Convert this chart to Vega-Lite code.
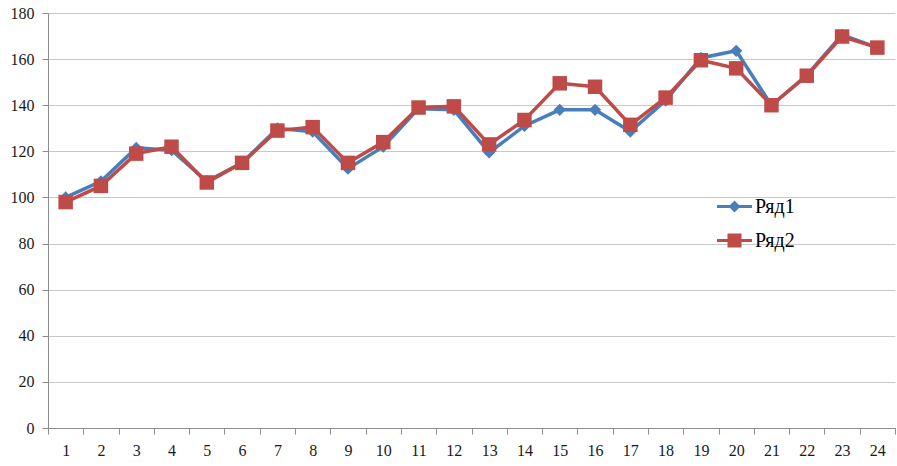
{
  "$schema": "https://vega.github.io/schema/vega-lite/v6.json",
  "width": 847,
  "height": 415,
  "autosize": {"type": "none"},
  "padding": {"left": 48, "top": 13, "right": 2, "bottom": 38},
  "background": "white",
  "config": {
    "view": {"stroke": null},
    "axis": {"labelFont": "Liberation Sans Narrow", "labelFontSize": 16, "labelColor": "#1a1a1a", "domainColor": "#8c8c8c", "tickColor": "#8c8c8c", "gridColor": "#c8c8c8", "title": null},
    "legend": {"labelFont": "Liberation Serif, Times New Roman, DejaVu Serif, serif", "labelFontSize": 20, "labelColor": "#000"}
  },
  "data": {"values": [
    {"x": 1, "s": "Ряд1", "v": 100}, {"x": 2, "s": "Ряд1", "v": 107}, {"x": 3, "s": "Ряд1", "v": 121.5}, {"x": 4, "s": "Ряд1", "v": 120.5},
    {"x": 5, "s": "Ряд1", "v": 107}, {"x": 6, "s": "Ряд1", "v": 115}, {"x": 7, "s": "Ряд1", "v": 130}, {"x": 8, "s": "Ряд1", "v": 128.5},
    {"x": 9, "s": "Ряд1", "v": 112.5}, {"x": 10, "s": "Ряд1", "v": 122}, {"x": 11, "s": "Ряд1", "v": 138.5}, {"x": 12, "s": "Ряд1", "v": 138},
    {"x": 13, "s": "Ряд1", "v": 119.5}, {"x": 14, "s": "Ряд1", "v": 131}, {"x": 15, "s": "Ряд1", "v": 138}, {"x": 16, "s": "Ряд1", "v": 138},
    {"x": 17, "s": "Ряд1", "v": 128.6}, {"x": 18, "s": "Ряд1", "v": 142}, {"x": 19, "s": "Ряд1", "v": 160.5}, {"x": 20, "s": "Ряд1", "v": 163.6},
    {"x": 21, "s": "Ряд1", "v": 140}, {"x": 22, "s": "Ряд1", "v": 153}, {"x": 23, "s": "Ряд1", "v": 170.5}, {"x": 24, "s": "Ряд1", "v": 165},
    {"x": 1, "s": "Ряд2", "v": 98}, {"x": 2, "s": "Ряд2", "v": 105}, {"x": 3, "s": "Ряд2", "v": 119}, {"x": 4, "s": "Ряд2", "v": 122},
    {"x": 5, "s": "Ряд2", "v": 106.5}, {"x": 6, "s": "Ряд2", "v": 115}, {"x": 7, "s": "Ряд2", "v": 129}, {"x": 8, "s": "Ряд2", "v": 130.5},
    {"x": 9, "s": "Ряд2", "v": 115}, {"x": 10, "s": "Ряд2", "v": 124}, {"x": 11, "s": "Ряд2", "v": 139}, {"x": 12, "s": "Ряд2", "v": 139.5},
    {"x": 13, "s": "Ряд2", "v": 123}, {"x": 14, "s": "Ряд2", "v": 133.6}, {"x": 15, "s": "Ряд2", "v": 149.5}, {"x": 16, "s": "Ряд2", "v": 148},
    {"x": 17, "s": "Ряд2", "v": 131.5}, {"x": 18, "s": "Ряд2", "v": 143.3}, {"x": 19, "s": "Ряд2", "v": 159.5}, {"x": 20, "s": "Ряд2", "v": 156},
    {"x": 21, "s": "Ряд2", "v": 140}, {"x": 22, "s": "Ряд2", "v": 152.8}, {"x": 23, "s": "Ряд2", "v": 169.8}, {"x": 24, "s": "Ряд2", "v": 165}
  ]},
  "encoding": {
    "x": {"field": "x", "type": "ordinal", "bandPosition": 0.5,
      "scale": {"type": "band", "paddingInner": 0, "paddingOuter": 0},
      "axis": {"labelAngle": 0, "tickBand": "extent", "tickSize": 6, "labelPadding": 8, "grid": false}},
    "y": {"field": "v", "type": "quantitative",
      "scale": {"domain": [0, 180], "nice": false, "zero": true},
      "axis": {"values": [0, 20, 40, 60, 80, 100, 120, 140, 160, 180], "tickSize": 6, "labelPadding": 8, "grid": true}}
  },
  "layer": [
    {
      "mark": {"type": "line", "strokeWidth": 3.5},
      "encoding": {
        "color": {"field": "s", "type": "nominal", "scale": {"domain": ["Ряд1", "Ряд2"], "range": ["#4a7ebb", "#be4b48"]}, "legend": null}
      }
    },
    {
      "transform": [{"filter": "datum.s == 'Ряд1'"}],
      "mark": {"type": "point", "filled": true, "opacity": 1, "shape": "diamond", "size": 150},
      "encoding": {
        "color": {"field": "s", "type": "nominal", "legend": null}
      }
    },
    {
      "transform": [{"filter": "datum.s == 'Ряд2'"}],
      "mark": {"type": "point", "filled": true, "opacity": 1, "shape": "square", "size": 210},
      "encoding": {
        "color": {"field": "s", "type": "nominal", "legend": null}
      }
    },
    {
      "transform": [{"filter": "false"}],
      "mark": {"type": "point", "filled": true, "fill": "#4a7ebb", "opacity": 1},
      "encoding": {
        "shape": {"field": "s", "type": "nominal",
          "scale": {"domain": ["Ряд1"], "range": ["M-1,-0.09H1V0.09H-1ZM0,-0.34L0.34,0L0,0.34L-0.34,0Z"]},
          "legend": {"title": null, "orient": "none", "legendX": 668, "legendY": 175, "symbolSize": 1225, "symbolFillColor": "#4a7ebb", "symbolOpacity": 1, "labelOffset": 2}}
      }
    },
    {
      "transform": [{"filter": "false"}],
      "mark": {"type": "point", "filled": true, "fill": "#be4b48", "opacity": 1},
      "encoding": {
        "shape": {"field": "s", "type": "nominal",
          "scale": {"domain": ["Ряд2"], "range": ["M-1,-0.09H1V0.09H-1ZM-0.4,-0.4H0.4V0.4H-0.4Z"]},
          "legend": {"title": null, "orient": "none", "legendX": 668, "legendY": 209, "symbolSize": 1225, "symbolFillColor": "#be4b48", "symbolOpacity": 1, "labelOffset": 2}}
      }
    }
  ],
  "resolve": {"scale": {"shape": "independent"}, "legend": {"shape": "independent"}}
}
